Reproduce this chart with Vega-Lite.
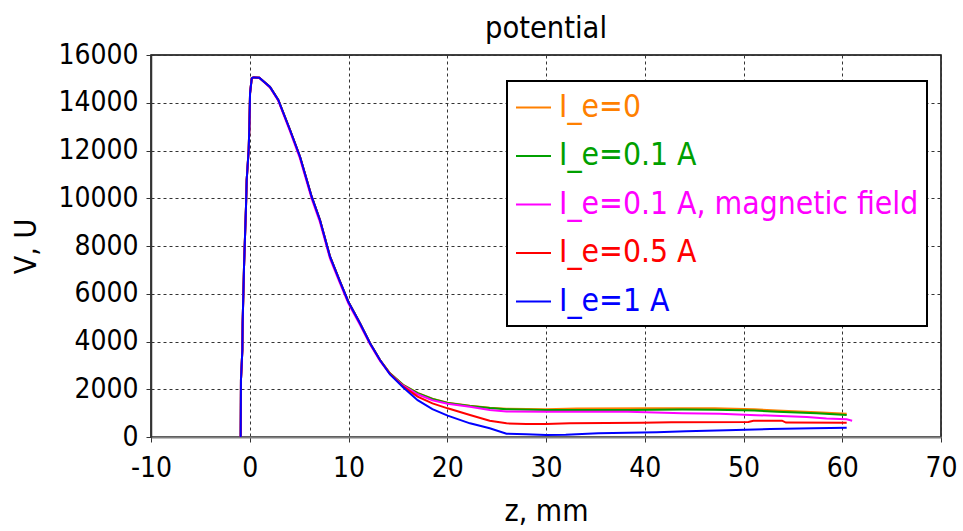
{
  "$schema": "https://vega.github.io/schema/vega-lite/v6.json",
  "width": 790,
  "height": 382,
  "autosize": {"type": "none"},
  "padding": {"left": 151, "top": 55, "right": 22, "bottom": 94},
  "background": "white",
  "title": {"text": "potential", "font": "DejaVu Sans Condensed, DejaVu Sans", "fontSize": 30.5, "fontWeight": "normal", "color": "black", "anchor": "middle", "frame": "group", "offset": -3},
  "config": {
    "view": {"stroke": "#000000", "strokeWidth": 1.5},
    "axis": {"labelFont": "DejaVu Sans Condensed, DejaVu Sans", "titleFont": "DejaVu Sans Condensed, DejaVu Sans", "labelColor": "black", "titleColor": "black", "titleFontWeight": "normal", "labelFontSize": 28, "titleFontSize": 30, "gridColor": "#333333", "gridDash": [3, 3], "gridOpacity": 1, "gridWidth": 1, "tickColor": "#333333", "tickSize": 5}
  },
  "datasets": {
    "pts": [
      {"series": "I_e=0", "z": -0.92, "V": 0}, {"series": "I_e=0", "z": -0.89, "V": 2387}, {"series": "I_e=0", "z": -0.75, "V": 3644}, {"series": "I_e=0", "z": -0.72, "V": 4762}, {"series": "I_e=0", "z": -0.58, "V": 7134}, {"series": "I_e=0", "z": -0.48, "V": 8390}, {"series": "I_e=0", "z": -0.38, "V": 9647}, {"series": "I_e=0", "z": -0.31, "V": 10764}, {"series": "I_e=0", "z": -0.11, "V": 12021}, {"series": "I_e=0", "z": -0.04, "V": 12998}, {"series": "I_e=0", "z": 0.03, "V": 14396}, {"series": "I_e=0", "z": 0.2, "V": 15024}, {"series": "I_e=0", "z": 0.35, "V": 15060}, {"series": "I_e=0", "z": 0.97, "V": 15050}, {"series": "I_e=0", "z": 2.05, "V": 14660}, {"series": "I_e=0", "z": 2.89, "V": 14115}, {"series": "I_e=0", "z": 4.08, "V": 12859}, {"series": "I_e=0", "z": 5.09, "V": 11740}, {"series": "I_e=0", "z": 6.27, "V": 10065}, {"series": "I_e=0", "z": 7.11, "V": 9089}, {"series": "I_e=0", "z": 8.13, "V": 7552}, {"series": "I_e=0", "z": 9.14, "V": 6505}, {"series": "I_e=0", "z": 9.98, "V": 5667}, {"series": "I_e=0", "z": 11.16, "V": 4762}, {"series": "I_e=0", "z": 12.18, "V": 3924}, {"series": "I_e=0", "z": 13.19, "V": 3225}, {"series": "I_e=0", "z": 14.2, "V": 2667},
      {"series": "I_e=0", "z": 15.55, "V": 2180}, {"series": "I_e=0", "z": 17, "V": 1850}, {"series": "I_e=0", "z": 18.5, "V": 1600}, {"series": "I_e=0", "z": 20.04, "V": 1438}, {"series": "I_e=0", "z": 22.3, "V": 1312}, {"series": "I_e=0", "z": 24.3, "V": 1229}, {"series": "I_e=0", "z": 26, "V": 1187}, {"series": "I_e=0", "z": 30, "V": 1160}, {"series": "I_e=0", "z": 33.1, "V": 1195}, {"series": "I_e=0", "z": 40.5, "V": 1200}, {"series": "I_e=0", "z": 47.1, "V": 1200}, {"series": "I_e=0", "z": 51.1, "V": 1165}, {"series": "I_e=0", "z": 53.4, "V": 1110}, {"series": "I_e=0", "z": 57.4, "V": 1040}, {"series": "I_e=0", "z": 60.45, "V": 975},

      {"series": "I_e=0.1 A", "z": -0.92, "V": 0}, {"series": "I_e=0.1 A", "z": -0.89, "V": 2387}, {"series": "I_e=0.1 A", "z": -0.75, "V": 3644}, {"series": "I_e=0.1 A", "z": -0.72, "V": 4762}, {"series": "I_e=0.1 A", "z": -0.58, "V": 7134}, {"series": "I_e=0.1 A", "z": -0.48, "V": 8390}, {"series": "I_e=0.1 A", "z": -0.38, "V": 9647}, {"series": "I_e=0.1 A", "z": -0.31, "V": 10764}, {"series": "I_e=0.1 A", "z": -0.11, "V": 12021}, {"series": "I_e=0.1 A", "z": -0.04, "V": 12998}, {"series": "I_e=0.1 A", "z": 0.03, "V": 14396}, {"series": "I_e=0.1 A", "z": 0.2, "V": 15024}, {"series": "I_e=0.1 A", "z": 0.35, "V": 15060}, {"series": "I_e=0.1 A", "z": 0.97, "V": 15050}, {"series": "I_e=0.1 A", "z": 2.05, "V": 14660}, {"series": "I_e=0.1 A", "z": 2.89, "V": 14115}, {"series": "I_e=0.1 A", "z": 4.08, "V": 12859}, {"series": "I_e=0.1 A", "z": 5.09, "V": 11740}, {"series": "I_e=0.1 A", "z": 6.27, "V": 10065}, {"series": "I_e=0.1 A", "z": 7.11, "V": 9089}, {"series": "I_e=0.1 A", "z": 8.13, "V": 7552}, {"series": "I_e=0.1 A", "z": 9.14, "V": 6505}, {"series": "I_e=0.1 A", "z": 9.98, "V": 5667}, {"series": "I_e=0.1 A", "z": 11.16, "V": 4762}, {"series": "I_e=0.1 A", "z": 12.18, "V": 3924}, {"series": "I_e=0.1 A", "z": 13.19, "V": 3225}, {"series": "I_e=0.1 A", "z": 14.2, "V": 2667},
      {"series": "I_e=0.1 A", "z": 15.55, "V": 2175}, {"series": "I_e=0.1 A", "z": 17, "V": 1840}, {"series": "I_e=0.1 A", "z": 18.5, "V": 1590}, {"series": "I_e=0.1 A", "z": 20.04, "V": 1425}, {"series": "I_e=0.1 A", "z": 22.3, "V": 1295}, {"series": "I_e=0.1 A", "z": 24.3, "V": 1212}, {"series": "I_e=0.1 A", "z": 26, "V": 1165}, {"series": "I_e=0.1 A", "z": 30, "V": 1131}, {"series": "I_e=0.1 A", "z": 38.3, "V": 1131}, {"series": "I_e=0.1 A", "z": 43.8, "V": 1150}, {"series": "I_e=0.1 A", "z": 47.1, "V": 1140}, {"series": "I_e=0.1 A", "z": 51.1, "V": 1105}, {"series": "I_e=0.1 A", "z": 53.4, "V": 1060}, {"series": "I_e=0.1 A", "z": 57.4, "V": 995}, {"series": "I_e=0.1 A", "z": 60.45, "V": 925},

      {"series": "I_e=0.1 A, magnetic field", "z": -0.92, "V": 0}, {"series": "I_e=0.1 A, magnetic field", "z": -0.89, "V": 2387}, {"series": "I_e=0.1 A, magnetic field", "z": -0.75, "V": 3644}, {"series": "I_e=0.1 A, magnetic field", "z": -0.72, "V": 4762}, {"series": "I_e=0.1 A, magnetic field", "z": -0.58, "V": 7134}, {"series": "I_e=0.1 A, magnetic field", "z": -0.48, "V": 8390}, {"series": "I_e=0.1 A, magnetic field", "z": -0.38, "V": 9647}, {"series": "I_e=0.1 A, magnetic field", "z": -0.31, "V": 10764}, {"series": "I_e=0.1 A, magnetic field", "z": -0.11, "V": 12021}, {"series": "I_e=0.1 A, magnetic field", "z": -0.04, "V": 12998}, {"series": "I_e=0.1 A, magnetic field", "z": 0.03, "V": 14396}, {"series": "I_e=0.1 A, magnetic field", "z": 0.2, "V": 15024}, {"series": "I_e=0.1 A, magnetic field", "z": 0.35, "V": 15060}, {"series": "I_e=0.1 A, magnetic field", "z": 0.97, "V": 15050}, {"series": "I_e=0.1 A, magnetic field", "z": 2.05, "V": 14640}, {"series": "I_e=0.1 A, magnetic field", "z": 2.89, "V": 14080}, {"series": "I_e=0.1 A, magnetic field", "z": 4.08, "V": 12800}, {"series": "I_e=0.1 A, magnetic field", "z": 5.09, "V": 11660}, {"series": "I_e=0.1 A, magnetic field", "z": 6.27, "V": 9980}, {"series": "I_e=0.1 A, magnetic field", "z": 7.11, "V": 9000}, {"series": "I_e=0.1 A, magnetic field", "z": 8.13, "V": 7470}, {"series": "I_e=0.1 A, magnetic field", "z": 9.14, "V": 6430}, {"series": "I_e=0.1 A, magnetic field", "z": 9.98, "V": 5600}, {"series": "I_e=0.1 A, magnetic field", "z": 11.16, "V": 4700}, {"series": "I_e=0.1 A, magnetic field", "z": 12.18, "V": 3880}, {"series": "I_e=0.1 A, magnetic field", "z": 13.19, "V": 3190}, {"series": "I_e=0.1 A, magnetic field", "z": 14.2, "V": 2640},
      {"series": "I_e=0.1 A, magnetic field", "z": 15.55, "V": 2150}, {"series": "I_e=0.1 A, magnetic field", "z": 17, "V": 1790}, {"series": "I_e=0.1 A, magnetic field", "z": 18.5, "V": 1540}, {"series": "I_e=0.1 A, magnetic field", "z": 20.04, "V": 1390}, {"series": "I_e=0.1 A, magnetic field", "z": 22.3, "V": 1265}, {"series": "I_e=0.1 A, magnetic field", "z": 24.3, "V": 1131}, {"series": "I_e=0.1 A, magnetic field", "z": 26, "V": 1070}, {"series": "I_e=0.1 A, magnetic field", "z": 30, "V": 1061}, {"series": "I_e=0.1 A, magnetic field", "z": 38.3, "V": 1061}, {"series": "I_e=0.1 A, magnetic field", "z": 43.8, "V": 995}, {"series": "I_e=0.1 A, magnetic field", "z": 47.6, "V": 975}, {"series": "I_e=0.1 A, magnetic field", "z": 51.3, "V": 915}, {"series": "I_e=0.1 A, magnetic field", "z": 56.4, "V": 840}, {"series": "I_e=0.1 A, magnetic field", "z": 58.4, "V": 775}, {"series": "I_e=0.1 A, magnetic field", "z": 60.45, "V": 740}, {"series": "I_e=0.1 A, magnetic field", "z": 61.0, "V": 684},

      {"series": "I_e=0.5 A", "z": -0.92, "V": 0}, {"series": "I_e=0.5 A", "z": -0.89, "V": 2387}, {"series": "I_e=0.5 A", "z": -0.75, "V": 3644}, {"series": "I_e=0.5 A", "z": -0.72, "V": 4762}, {"series": "I_e=0.5 A", "z": -0.58, "V": 7134}, {"series": "I_e=0.5 A", "z": -0.48, "V": 8390}, {"series": "I_e=0.5 A", "z": -0.38, "V": 9647}, {"series": "I_e=0.5 A", "z": -0.31, "V": 10764}, {"series": "I_e=0.5 A", "z": -0.11, "V": 12021}, {"series": "I_e=0.5 A", "z": -0.04, "V": 12998}, {"series": "I_e=0.5 A", "z": 0.03, "V": 14396}, {"series": "I_e=0.5 A", "z": 0.2, "V": 15024}, {"series": "I_e=0.5 A", "z": 0.35, "V": 15060}, {"series": "I_e=0.5 A", "z": 0.97, "V": 15050}, {"series": "I_e=0.5 A", "z": 2.05, "V": 14660}, {"series": "I_e=0.5 A", "z": 2.89, "V": 14115}, {"series": "I_e=0.5 A", "z": 4.08, "V": 12859}, {"series": "I_e=0.5 A", "z": 5.09, "V": 11740}, {"series": "I_e=0.5 A", "z": 6.27, "V": 10065}, {"series": "I_e=0.5 A", "z": 7.11, "V": 9089}, {"series": "I_e=0.5 A", "z": 8.13, "V": 7552}, {"series": "I_e=0.5 A", "z": 9.14, "V": 6505}, {"series": "I_e=0.5 A", "z": 9.98, "V": 5667}, {"series": "I_e=0.5 A", "z": 11.16, "V": 4762}, {"series": "I_e=0.5 A", "z": 12.18, "V": 3924}, {"series": "I_e=0.5 A", "z": 13.19, "V": 3225}, {"series": "I_e=0.5 A", "z": 14.2, "V": 2650},
      {"series": "I_e=0.5 A", "z": 15.55, "V": 2110}, {"series": "I_e=0.5 A", "z": 17, "V": 1690}, {"series": "I_e=0.5 A", "z": 18.5, "V": 1410}, {"series": "I_e=0.5 A", "z": 20.04, "V": 1201}, {"series": "I_e=0.5 A", "z": 22.3, "V": 921}, {"series": "I_e=0.5 A", "z": 24.3, "V": 684}, {"series": "I_e=0.5 A", "z": 26, "V": 572}, {"series": "I_e=0.5 A", "z": 28, "V": 540}, {"series": "I_e=0.5 A", "z": 30, "V": 544}, {"series": "I_e=0.5 A", "z": 32.4, "V": 572}, {"series": "I_e=0.5 A", "z": 39.7, "V": 600}, {"series": "I_e=0.5 A", "z": 42.7, "V": 614}, {"series": "I_e=0.5 A", "z": 50.5, "V": 625}, {"series": "I_e=0.5 A", "z": 51, "V": 680}, {"series": "I_e=0.5 A", "z": 53.9, "V": 684}, {"series": "I_e=0.5 A", "z": 54.3, "V": 605}, {"series": "I_e=0.5 A", "z": 60.45, "V": 600},

      {"series": "I_e=1 A", "z": -0.92, "V": 0}, {"series": "I_e=1 A", "z": -0.89, "V": 2387}, {"series": "I_e=1 A", "z": -0.75, "V": 3644}, {"series": "I_e=1 A", "z": -0.72, "V": 4762}, {"series": "I_e=1 A", "z": -0.58, "V": 7134}, {"series": "I_e=1 A", "z": -0.48, "V": 8390}, {"series": "I_e=1 A", "z": -0.38, "V": 9647}, {"series": "I_e=1 A", "z": -0.31, "V": 10764}, {"series": "I_e=1 A", "z": -0.11, "V": 12021}, {"series": "I_e=1 A", "z": -0.04, "V": 12998}, {"series": "I_e=1 A", "z": 0.03, "V": 14396}, {"series": "I_e=1 A", "z": 0.2, "V": 15024}, {"series": "I_e=1 A", "z": 0.35, "V": 15060}, {"series": "I_e=1 A", "z": 0.97, "V": 15050}, {"series": "I_e=1 A", "z": 2.05, "V": 14660}, {"series": "I_e=1 A", "z": 2.89, "V": 14115}, {"series": "I_e=1 A", "z": 4.08, "V": 12859}, {"series": "I_e=1 A", "z": 5.09, "V": 11740}, {"series": "I_e=1 A", "z": 6.27, "V": 10065}, {"series": "I_e=1 A", "z": 7.11, "V": 9089}, {"series": "I_e=1 A", "z": 8.13, "V": 7552}, {"series": "I_e=1 A", "z": 9.14, "V": 6505}, {"series": "I_e=1 A", "z": 9.98, "V": 5667}, {"series": "I_e=1 A", "z": 11.16, "V": 4762}, {"series": "I_e=1 A", "z": 12.18, "V": 3924}, {"series": "I_e=1 A", "z": 13.19, "V": 3225}, {"series": "I_e=1 A", "z": 14.2, "V": 2620},
      {"series": "I_e=1 A", "z": 15.55, "V": 2070}, {"series": "I_e=1 A", "z": 17, "V": 1540}, {"series": "I_e=1 A", "z": 18.5, "V": 1170}, {"series": "I_e=1 A", "z": 20.04, "V": 894}, {"series": "I_e=1 A", "z": 22.3, "V": 572}, {"series": "I_e=1 A", "z": 24.3, "V": 363}, {"series": "I_e=1 A", "z": 26, "V": 140}, {"series": "I_e=1 A", "z": 28, "V": 110}, {"series": "I_e=1 A", "z": 30, "V": 80}, {"series": "I_e=1 A", "z": 32, "V": 90}, {"series": "I_e=1 A", "z": 35.3, "V": 160}, {"series": "I_e=1 A", "z": 39.7, "V": 190}, {"series": "I_e=1 A", "z": 41.2, "V": 200}, {"series": "I_e=1 A", "z": 44.2, "V": 245}, {"series": "I_e=1 A", "z": 48.3, "V": 285}, {"series": "I_e=1 A", "z": 52.7, "V": 330}, {"series": "I_e=1 A", "z": 57.1, "V": 370}, {"series": "I_e=1 A", "z": 60.45, "V": 390}
    ]
  },
  "data": {"name": "pts"},
  "mark": {"type": "line", "strokeWidth": 2, "clip": true},
  "encoding": {
    "x": {
      "field": "z", "type": "quantitative",
      "scale": {"domain": [-10, 70], "nice": false, "zero": false},
      "axis": {"title": "z, mm", "values": [-10, 0, 10, 20, 30, 40, 50, 60, 70], "labelExpr": "'' + datum.value", "domainColor": "#808080", "domainWidth": 2, "labelPadding": 12, "titlePadding": 14, "labelFlush": false}
    },
    "y": {
      "field": "V", "type": "quantitative",
      "scale": {"domain": [0, 16000], "nice": false},
      "axis": {"title": "V, U", "values": [0, 2000, 4000, 6000, 8000, 10000, 12000, 14000, 16000], "format": "d", "domainColor": "#333333", "domainWidth": 1.5, "labelPadding": 8, "titlePadding": 16, "labelFlush": false}
    },
    "color": {
      "field": "series", "type": "nominal",
      "scale": {"domain": ["I_e=0", "I_e=0.1 A", "I_e=0.1 A, magnetic field", "I_e=0.5 A", "I_e=1 A"], "range": ["#FF8000", "#00A000", "#FF00FF", "#FF0000", "#0000FF"]},
      "legend": {
        "title": null, "orient": "none", "legendX": 356, "legendY": 26, "direction": "vertical",
        "symbolType": "stroke", "symbolSize": 1225, "symbolStrokeWidth": 2,
        "labelFont": "DejaVu Sans Condensed, DejaVu Sans", "labelFontSize": 31.6, "labelOffset": 7, "labelLimit": 600,
        "rowPadding": 13.5, "padding": 8, "strokeColor": "black", "fillColor": "white",
        "encode": {
          "legend": {"update": {"strokeWidth": {"value": 2}}},
          "labels": {"update": {"fill": {"scale": "color", "field": "value"}}}
        }
      }
    }
  }
}
